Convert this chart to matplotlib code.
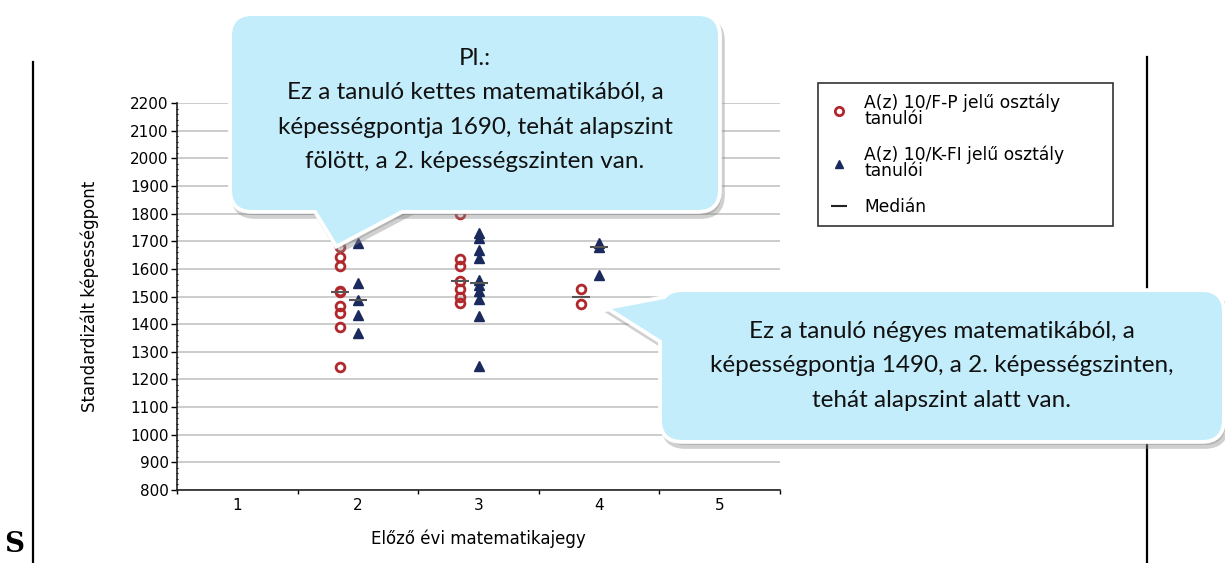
import matplotlib
matplotlib.use("Agg")
import matplotlib.pyplot as plt
from matplotlib.patches import FancyBboxPatch, Polygon
from matplotlib.lines import Line2D
from matplotlib.ticker import MultipleLocator, FixedLocator
import numpy as np

W, H = 1225, 563

# previous year's maths grade -> standardised ability points
grades = [2, 3, 4]
fp_scores = [
    [1680, 1643, 1612, 1520, 1518, 1466, 1440, 1391, 1245],
    [1800, 1636, 1610, 1555, 1527, 1500, 1475],
    [1527, 1473],
]
kf_scores = [
    [1694, 1549, 1488, 1433, 1367],
    [1730, 1710, 1670, 1640, 1560, 1540, 1520, 1490, 1430, 1250],
    [1692, 1680, 1578],
]
x_labels = ["1", "2", "3", "4", "5"]
legend_labels = ["A(z) 10/F-P jelű osztály\ntanulói",
                 "A(z) 10/K-FI jelű osztály\ntanulói",
                 "Medián"]

callout1_text = ("Pl.:\nEz a tanuló kettes matematikából, a\n"
                 "képességpontja 1690, tehát alapszint\n"
                 "fölött, a 2. képességszinten van.")
callout2_text = ("Ez a tanuló négyes matematikából, a\n"
                 "képességpontja 1490, a 2. képességszinten,\n"
                 "tehát alapszint alatt van.")

red = "#B0282C"
navy = "#1B2A5C"
med_col = "#555555"

plt.rcParams["font.family"] = ["DejaVu Sans"]

fig = plt.figure(figsize=(W / 100, H / 100), dpi=100)
ax = fig.add_axes([177 / W, 1 - 490 / H, (780 - 177) / W, (490 - 103) / H])

fp_off, kf_off = -0.15, 0.0
for g, fp, kf in zip(grades, fp_scores, kf_scores):
    ax.plot([g + fp_off] * len(fp), fp, linestyle="none", marker="o", ms=6.3,
            mfc="none", mec=red, mew=2.0, zorder=3)
    ax.plot([g + kf_off] * len(kf), kf, linestyle="none", marker="^", ms=6.5,
            color=navy, zorder=3)
    ax.plot([g + fp_off, g + kf_off], [np.median(fp), np.median(kf)],
            linestyle="none", marker="_", ms=13, mew=1.5, color=med_col, zorder=4)

ax.set_xlim(0.5, 5.5)
ax.set_ylim(800, 2200)
ax.yaxis.set_major_locator(MultipleLocator(100))
ax.yaxis.set_minor_locator(MultipleLocator(20))
ax.grid(axis="y", color="#c8c8c8", lw=1.3)
ax.set_axisbelow(True)

ax.xaxis.set_major_locator(FixedLocator([1, 2, 3, 4, 5]))
ax.set_xticklabels(x_labels)
ax.xaxis.set_minor_locator(FixedLocator([0.5, 1.5, 2.5, 3.5, 4.5, 5.5]))
ax.tick_params(axis="x", which="major", length=0, pad=6, labelsize=11)
ax.tick_params(axis="x", which="minor", length=3, width=1, direction="out")
ax.tick_params(axis="y", which="major", length=4, width=1, labelsize=11, pad=2)
ax.tick_params(axis="y", which="minor", length=2, width=0.8, direction="inout")

for s in ["top", "right"]:
    ax.spines[s].set_visible(False)
for s in ["left", "bottom"]:
    ax.spines[s].set_color("#222222")
    ax.spines[s].set_linewidth(1.2)

ax.set_xlabel("Előző évi matematikajegy", fontsize=12, labelpad=12)
ax.set_ylabel("Standardizált képességpont", fontsize=12, labelpad=22)

handles = [
    Line2D([], [], linestyle="none", marker="o", ms=6, mfc="none", mec=red, mew=2),
    Line2D([], [], linestyle="none", marker="^", ms=6, color=navy),
    Line2D([], [], linestyle="none", marker="_", ms=12, mew=1.5, color="#222222"),
]
leg = fig.legend(handles, legend_labels, loc="upper left",
                 bbox_to_anchor=(818 / W, 1 - 227 / H, 295 / W, 144 / H),
                 mode="expand", fontsize=12.3,
                 frameon=True, fancybox=False, edgecolor="#333333",
                 framealpha=1, borderpad=0.6, labelspacing=1.05,
                 handletextpad=0.9, handlelength=1.2, borderaxespad=0)
leg.get_frame().set_linewidth(1.2)
for t in leg.get_texts():
    t.set_linespacing(0.85)

# overlay in pixel coordinates for decorations and callouts
ov = fig.add_axes([0, 0, 1, 1], zorder=10)
ov.set_xlim(0, W)
ov.set_ylim(H, 0)
ov.axis("off")
ov.patch.set_alpha(0)

ov.plot([33, 33], [62, H], color="black", lw=1.6, zorder=1)
ov.plot([1147, 1147], [57, H], color="black", lw=1.6, zorder=1)
ov.text(4, 545, "S", fontsize=20, fontweight="bold", family="DejaVu Serif",
        va="center", ha="left", zorder=1)

fill = "#C4EDFB"


def callout(x0, y0, x1, y1, pointer, text, fs, ty):
    r = 20
    for dx, dy, fc, ec, alpha, z in [(3, 5, "#8a8a8a", "#8a8a8a", 0.4, 2),
                                     (0, 0, fill, "white", 1, 3)]:
        box = FancyBboxPatch((x0 + r + dx, y0 + r + dy), x1 - x0 - 2 * r, y1 - y0 - 2 * r,
                             boxstyle=f"round,pad={r}", fc=fc, ec=ec, lw=5.5,
                             alpha=alpha, zorder=z)
        ov.add_patch(box)
        pts = [(px + dx, py + dy) for px, py in pointer]
        ov.add_patch(Polygon(pts, closed=True, fc=fc, ec=ec, lw=5.5,
                             joinstyle="miter", alpha=alpha, zorder=z))
    ov.add_patch(FancyBboxPatch((x0 + r, y0 + r), x1 - x0 - 2 * r, y1 - y0 - 2 * r,
                                boxstyle=f"round,pad={r}", fc=fill, ec="none", zorder=4))
    ov.add_patch(Polygon(pointer, closed=True, fc=fill, ec="none", zorder=4))
    ov.text((x0 + x1) / 2, ty, text, ha="center", va="center",
            fontsize=fs, family="Lato", color="#111111", linespacing=1.8, zorder=5)


callout(232, 16, 718, 210, [(307, 195), (337, 244), (430, 195)], callout1_text, 17.5, 110)
callout(662, 292, 1222, 440, [(680, 296), (612, 309), (680, 352)], callout2_text, 17.5, 366)

fig.savefig("out.png", dpi=100)
